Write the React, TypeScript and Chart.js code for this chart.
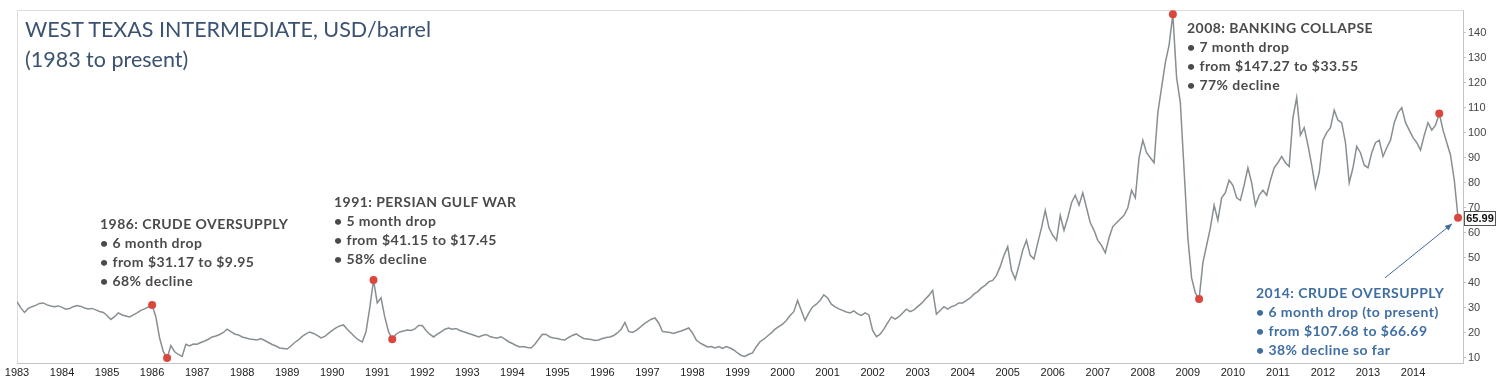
import React, { useEffect, useRef } from "react";
import { Chart, registerables } from "chart.js";

Chart.register(...registerables);

// Monthly WTI values (x positions in picture years)
const START_YEAR = 1983;
const prices1980s = [
  32.5, 30, 28.2, 29.8, 30.5, 31, 31.8, 32, 31.2, 30.8, 30.5, 30.8,
  30.2, 29.5, 29.8, 30.5, 31, 30.6, 30, 29.6, 29.8, 29.2, 28.6, 28.2,
  27, 25.4, 26.5, 28, 27.2, 26.8, 26.4, 27.2, 28, 29, 29.6, 30.4,
  31.17, 26.4, 18, 12.5, 9.95, 15, 12.5, 11.4, 10.6, 15.5, 14.8, 15.6,
  15.5, 16.2, 16.8, 17.5, 18.4, 18.8, 19.4, 20.2, 21.5, 20.5, 19.6, 19.2,
  18.4, 18, 17.6, 17.4, 17.2, 17.8, 17, 16.2, 15.4, 14.8, 14, 13.8,
  13.6, 14.8, 16.2, 17.2, 18.6, 19.6, 20.4, 19.8, 19, 18, 18.6, 19.8,
];
const prices1990s = [
  21, 22, 22.8, 23.2, 21.5, 20, 18.5, 17.2, 16.4, 20.5, 30, 41.15,
  32, 34, 26.4, 20.5, 17.45, 19.5, 20.4, 20.8, 21.2, 21, 21.6, 23,
  23, 21, 19.5, 18.4, 19.5, 20.4, 21.5, 22, 21.5, 21.8, 21, 20.5,
  20, 19.5, 19, 18.4, 19, 19.4, 18.6, 18.2, 18, 18.5, 17.5, 16.5,
  15.8, 15, 14.4, 14.6, 14.2, 14, 15.5, 17.5, 19.5, 19.4, 18.4, 18,
  17.8, 17.4, 17.2, 18.2, 19, 19.6, 18.6, 17.8, 17.6, 17.4, 17, 17.2,
  17.8, 18.2, 18.4, 19, 20, 21.5, 24.2, 20.6, 20.2, 21, 22.2, 23.5,
  24.5, 25.5, 26, 24, 20.6, 20.4, 20.2, 19.8, 20.4, 20.8, 21.4, 22,
  20, 17.2, 16, 15.2, 14.4, 14.6, 14, 14.6, 13.8, 14.6, 14, 13.2,
  12, 11, 10.6, 11.5, 12, 14.5, 16.5, 17.5, 18.8, 20, 21.5, 22.5,
];
const prices2000s = [
  23.5, 25, 27, 28.5, 33, 29, 25, 28, 30.4, 31.5, 33, 35.2,
  34, 31.5, 30.4, 29.6, 29, 28.4, 28, 28.8, 27.6, 27, 28, 27.2,
  21, 18.5, 19.5, 21.5, 24, 26.4, 25.5, 26.5, 28, 29.5, 28.5, 29.2,
  30.5, 31.8, 33.5, 35, 37, 27.5, 29, 30.5, 29.5, 30.5, 31, 32,
  32, 33, 34, 35.5, 36.5, 38, 39, 40.5, 41, 43, 46.5, 51,
  54.5, 45, 41.5, 47, 53, 57, 51, 49.5, 56, 62, 69, 62,
  59, 57, 67, 61, 66, 72, 75, 71, 76, 70, 64, 61,
  57, 55, 52, 58, 62.5, 64, 65.5, 67, 70, 77, 74, 90,
  97, 92, 90, 88, 108, 118, 128, 135, 147.27, 122, 112, 85,
  58, 42, 36, 33.55, 48, 55, 62, 71, 65, 74, 76, 81,
];
const prices2010s = [
  79, 74, 73, 79, 86, 80, 71, 75, 77, 75, 81, 86,
  88, 90.5, 88, 86.5, 106, 114, 99, 102, 95, 87, 78, 84,
  97, 100, 102, 109, 105, 104, 96, 80, 86, 94.5, 92, 87,
  86, 92, 96, 97, 90.5, 94, 97, 104, 108, 110, 104, 101,
  98, 96, 93, 99, 104, 101, 103, 107.68, 101, 96, 91, 81,
  65.99,
];

const eventYears = [1986, 1986.333, 1990.917, 1991.333, 2008.667, 2009.25, 2014.583, 2015];
const eventPrices = [31.17, 9.95, 41.15, 17.45, 147.27, 33.55, 107.68, 65.99];

const xTickYears = Array.from({ length: 32 }, (_, i) => 1983 + i);
const yTickValues = [10, 20, 30, 40, 50, 60, 70, 80, 90, 100, 110, 120, 130, 140];

const titleLines = ["WEST TEXAS INTERMEDIATE, USD/barrel", "(1983 to present)"];
const note1986 = ["1986: CRUDE OVERSUPPLY", "• 6 month drop", "• from $31.17 to $9.95", "• 68% decline"];
const note1991 = ["1991: PERSIAN GULF WAR", "• 5 month drop", "• from $41.15 to $17.45", "• 58% decline"];
const note2008 = ["2008: BANKING COLLAPSE", "• 7 month drop", "• from $147.27 to $33.55", "• 77% decline"];
const note2014 = ["2014: CRUDE OVERSUPPLY", "• 6 month drop (to present)", "• from $107.68 to $66.69", "• 38% decline so far"];

const allPrices = [...prices1980s, ...prices1990s, ...prices2000s, ...prices2010s];

export default function App() {
  const ref = useRef<HTMLCanvasElement>(null);

  useEffect(() => {
    document.body.style.margin = "0";
    const canvas = ref.current!;
    const linePoints = allPrices.map((v, i) => ({ x: START_YEAR + i / 12, y: v }));
    const eventPoints = eventYears.map((x, i) => ({ x, y: eventPrices[i] }));

    const decor = {
      id: "decor",
      beforeDatasetsDraw(chart: any) {
        const { ctx, chartArea } = chart;
        ctx.save();
        ctx.strokeStyle = "#dcdcdc";
        ctx.lineWidth = 1;
        ctx.beginPath();
        ctx.moveTo(chartArea.left + 0.5, chartArea.bottom);
        ctx.lineTo(chartArea.left + 0.5, chartArea.top + 0.5);
        ctx.lineTo(chartArea.right, chartArea.top + 0.5);
        ctx.stroke();
        ctx.restore();
      },
      afterDraw(chart: any) {
        const { ctx } = chart;
        const xs = chart.scales.x;
        const ys = chart.scales.y;
        const last = eventPoints[eventPoints.length - 1];
        const px = xs.getPixelForValue(last.x);
        const py = ys.getPixelForValue(last.y);
        // arrow
        const tipX = px - 6;
        const tipY = py + 6;
        const sx = tipX - 67;
        const sy = tipY + 54;
        ctx.save();
        ctx.strokeStyle = "#3e6b9c";
        ctx.fillStyle = "#3e6b9c";
        ctx.lineWidth = 1;
        ctx.beginPath();
        ctx.moveTo(sx, sy);
        ctx.lineTo(tipX, tipY);
        ctx.stroke();
        const ang = Math.atan2(tipY - sy, tipX - sx);
        const L = 7, W = 3;
        ctx.beginPath();
        ctx.moveTo(tipX, tipY);
        ctx.lineTo(tipX - L * Math.cos(ang) + W * Math.sin(ang), tipY - L * Math.sin(ang) - W * Math.cos(ang));
        ctx.lineTo(tipX - L * Math.cos(ang) - W * Math.sin(ang), tipY - L * Math.sin(ang) + W * Math.cos(ang));
        ctx.closePath();
        ctx.fill();
        // value label
        const bx = chart.chartArea.right + 1.5;
        const bw = 31;
        const bh = 14;
        const by = Math.round(py - bh / 2) + 0.5;
        ctx.fillStyle = "#ffffff";
        ctx.fillRect(bx, by, bw, bh);
        ctx.strokeStyle = "#555";
        ctx.strokeRect(bx, by, bw, bh);
        ctx.fillStyle = "#111";
        ctx.font = "bold 11px 'Liberation Sans', Arial, sans-serif";
        ctx.textAlign = "center";
        ctx.textBaseline = "middle";
        ctx.fillText(last.y.toFixed(2), bx + bw / 2, by + bh / 2 + 0.5);
        ctx.restore();
      },
    };

    const chart = new Chart(canvas, {
      type: "line",
      data: {
        datasets: [
          {
            type: "scatter",
            data: eventPoints,
            pointRadius: 4,
            pointHoverRadius: 4,
            pointBackgroundColor: "#d9473d",
            pointBorderWidth: 0,
            showLine: false,
            order: 0,
          } as any,
          {
            data: linePoints,
            borderColor: "#878f93",
            borderWidth: 1.5,
            pointRadius: 0,
            tension: 0,
            fill: false,
            order: 1,
          },
        ],
      },
      options: {
        responsive: false,
        animation: false,
        devicePixelRatio: 1,
        layout: { padding: { left: 17, top: 10, right: 0, bottom: 0 } },
        plugins: { legend: { display: false }, tooltip: { enabled: false }, title: { display: false } },
        scales: {
          x: {
            type: "linear",
            min: 1983,
            max: 2015.11,
            afterBuildTicks: (s: any) => {
              s.ticks = xTickYears.map((v) => ({ value: v }));
            },
            afterFit: (s: any) => {
              s.height = 17;
            },
            ticks: {
              autoSkip: false,
              maxRotation: 0,
              padding: 3,
              color: "#222",
              font: { family: "'Liberation Sans', Arial, sans-serif", size: 11 },
              callback: (v: any) => String(v),
            },
            grid: { display: true, drawOnChartArea: false, drawTicks: false },
            border: { display: true, color: "#c4c4c4", width: 1 },
          },
          y: {
            type: "linear",
            position: "right",
            min: 8,
            max: 149,
            afterBuildTicks: (s: any) => {
              s.ticks = yTickValues.map((v) => ({ value: v }));
            },
            afterFit: (s: any) => {
              s.width = 34;
            },
            ticks: {
              padding: 2,
              color: "#444",
              font: { family: "'Liberation Sans', Arial, sans-serif", size: 11 },
            },
            grid: { display: true, drawOnChartArea: false, tickLength: 3, color: "#c4c4c4" },
            border: { display: true, color: "#c4c4c4", width: 1 },
          },
        },
      } as any,
      plugins: [decor],
    });
    return () => chart.destroy();
  }, []);

  const noteStyle = (left: number, top: number, color: string): React.CSSProperties => ({
    position: "absolute",
    left,
    top,
    fontFamily: "Lato, 'Open Sans', sans-serif",
    fontWeight: 700,
    fontSize: 14,
    letterSpacing: "0.45px",
    lineHeight: "19px",
    color,
    whiteSpace: "pre",
  });

  return (
    <div style={{ position: "fixed", left: 0, top: 0, width: 1497, height: 380, background: "#fff" }}>
      <canvas ref={ref} width={1497} height={380} style={{ position: "absolute", left: 0, top: 0 }} />
      <div
        style={{
          position: "absolute",
          left: 25,
          top: 15,
          fontFamily: "Lato, 'Open Sans', sans-serif",
          fontSize: 21.5,
          lineHeight: "29.5px",
          color: "#3b5272",
          whiteSpace: "pre",
        }}
      >
        {titleLines.map((t) => (
          <div key={t}>{t}</div>
        ))}
      </div>
      <div style={noteStyle(100, 214, "#4a4a4a")}>{note1986.map((t) => <div key={t}>{t}</div>)}</div>
      <div style={noteStyle(334, 192, "#4a4a4a")}>{note1991.map((t) => <div key={t}>{t}</div>)}</div>
      <div style={noteStyle(1187, 18, "#4a4a4a")}>{note2008.map((t) => <div key={t}>{t}</div>)}</div>
      <div style={noteStyle(1256, 283, "#3f6ea3")}>{note2014.map((t) => <div key={t}>{t}</div>)}</div>
    </div>
  );
}
